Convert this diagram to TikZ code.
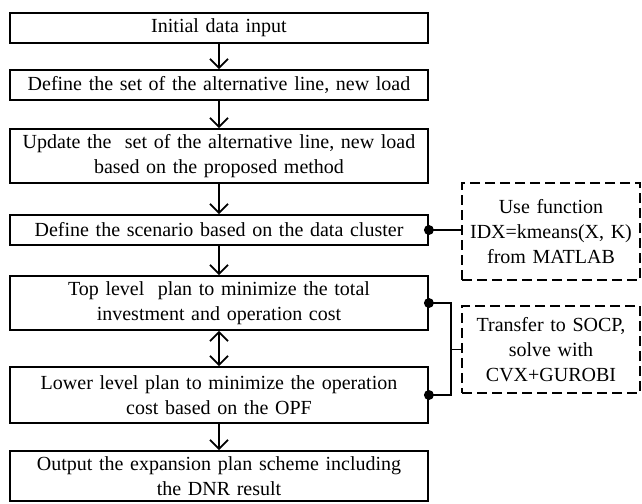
\documentclass[tikz,border=0pt]{standalone}
\usepackage{fontspec}
\setmainfont{Liberation Serif}
\usetikzlibrary{arrows.meta}

\tikzset{
  stepbox/.style={draw, line width=1.8pt, minimum width=418pt, text width=410pt,
    align=center, inner sep=0pt},
  notebox/.style={draw, line width=1.8pt, dash pattern=on 10pt off 5pt,
    minimum width=178pt, text width=172pt, align=center, inner sep=0pt},
  flow/.style={line width=1.8pt, -{Straight Barb[length=9pt,width=18pt,line width=1.8pt]}},
  link/.style={line width=1.8pt},
}

\begin{document}
\begin{tikzpicture}[x=1pt,y=-1pt,font=\fontsize{20}{25}\selectfont]
  \useasboundingbox (0,0) rectangle (642,503);
  % main flow
  \node[stepbox,minimum height=30pt] (init) at (219,28) {Initial data input};
  \node[stepbox,minimum height=30pt] (define) at (219,85) {Define the set of the alternative line, new load};
  \node[stepbox,minimum height=54pt] (update) at (219,156) {Update the\ \ set of the alternative line, new load\\based on the proposed method};
  \node[stepbox,minimum height=30pt] (scen) at (219,230) {Define the scenario based on the data cluster};
  \node[stepbox,minimum height=54pt] (top) at (219,303) {Top level\ \ plan to minimize the total\\investment and operation cost};
  \node[stepbox,minimum height=56pt] (lower) at (219,395) {Lower level plan to minimize the operation\\cost based on the OPF};
  \node[stepbox,minimum height=50pt] (output) at (219,476) {Output the expansion plan scheme including\\the DNR result};
  \draw[flow] (init) -- (define);
  \draw[flow] (define) -- (update);
  \draw[flow] (update) -- (scen);
  \draw[flow] (scen) -- (top);
  \draw[flow,{Straight Barb[length=9pt,width=18pt,line width=1.8pt]}-{Straight Barb[length=9pt,width=18pt,line width=1.8pt]}] (top) -- (lower);
  \draw[flow] (lower) -- (output);
  % side notes
  \node[notebox,minimum height=97pt] (kmeans) at (551,231.5) {Use function\\IDX=kmeans(X, K)\\from MATLAB};
  \node[notebox,minimum height=87pt] (socp) at (551,349.5) {Transfer to SOCP,\\solve with\\CVX+GUROBI};
  \draw[link] (scen.east) -- (scen.east -| kmeans.west);
  \coordinate (bus) at (451,303);
  \draw[link] (top.east) -- (bus) |- (lower.east);
  \draw[link] (socp.west) -- (socp.west -| bus);
  \foreach \n in {scen,top,lower}
    \fill (\n.east) circle[radius=5pt];
\end{tikzpicture}
\end{document}
